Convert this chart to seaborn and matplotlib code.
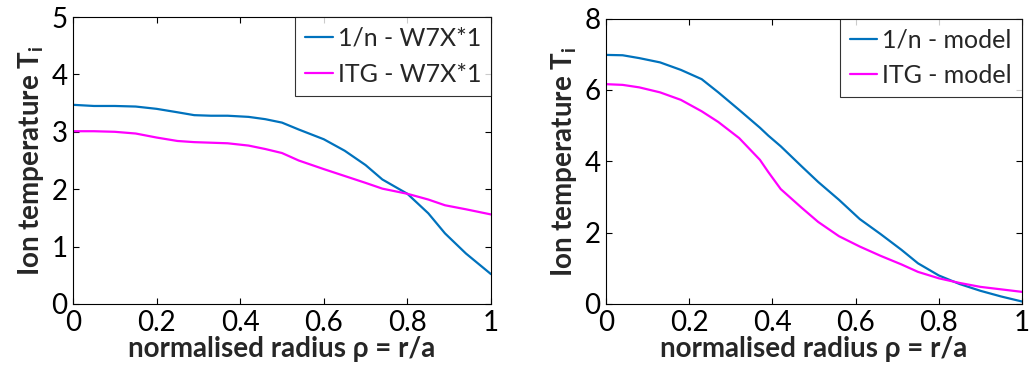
import numpy as np
import pandas as pd
import matplotlib
matplotlib.use("Agg")
import matplotlib.pyplot as plt
import seaborn as sns

# W7-X scaled profiles (left panel)
rho_w7x = [0.0, 0.05, 0.1, 0.15, 0.2, 0.25, 0.29, 0.33, 0.37, 0.42, 0.46,
           0.5, 0.54, 0.6, 0.65, 0.7, 0.74, 0.8, 0.85, 0.89, 0.94, 1.0]
ti_1n_w7x = [3.47, 3.45, 3.45, 3.44, 3.40, 3.34, 3.29, 3.28, 3.28, 3.26, 3.22,
             3.16, 3.04, 2.87, 2.67, 2.42, 2.17, 1.92, 1.58, 1.23, 0.88, 0.52]
ti_itg_w7x = [3.01, 3.01, 3.00, 2.97, 2.90, 2.84, 2.82, 2.81, 2.80, 2.76, 2.70,
              2.63, 2.50, 2.35, 2.23, 2.11, 2.01, 1.92, 1.82, 1.72, 1.65, 1.56]

# Model profiles (right panel)
rho_model = [0.0, 0.04, 0.08, 0.13, 0.18, 0.23, 0.27, 0.32, 0.37, 0.39, 0.42,
             0.47, 0.51, 0.56, 0.61, 0.66, 0.71, 0.75, 0.8, 0.85, 0.9, 0.95, 1.0]
ti_1n_model = [6.98, 6.97, 6.89, 6.77, 6.56, 6.30, 5.93, 5.44, 4.94, 4.72, 4.42,
               3.86, 3.42, 2.92, 2.38, 1.96, 1.52, 1.14, 0.80, 0.56, 0.37, 0.21, 0.07]
ti_itg_model = [6.16, 6.14, 6.07, 5.93, 5.72, 5.40, 5.10, 4.65, 4.04, 3.70, 3.22,
                2.70, 2.30, 1.90, 1.61, 1.35, 1.11, 0.90, 0.72, 0.59, 0.48, 0.41, 0.34]

labels_left = ["1/n - W7X*1", "ITG - W7X*1"]
labels_right = ["1/n - model", "ITG - model"]
y_max = [5, 8]
y_ticks = [[0, 1, 2, 3, 4, 5], [0, 2, 4, 6, 8]]
x_ticks = [0, 0.2, 0.4, 0.6, 0.8, 1]
x_ticklabels = ["0", "0.2", "0.4", "0.6", "0.8", "1"]

sns.set_theme(style="white")
plt.rcParams["font.family"] = ["Lato", "DejaVu Sans"]
plt.rcParams["mathtext.fontset"] = "custom"
plt.rcParams["mathtext.rm"] = "Lato"
plt.rcParams["mathtext.bf"] = "Lato:bold"

colors = ["#0072BD", "#FF00FF"]

fig = plt.figure(figsize=(10.31, 3.65), dpi=100)
ax_l = fig.add_axes([73 / 1031, 1 - 304 / 365, 418 / 1031, 287 / 365])
ax_r = fig.add_axes([606 / 1031, 1 - 304 / 365, 416 / 1031, 285.5 / 365])


def frame(rho, series, labels):
    parts = []
    for vals, lab in zip(series, labels):
        parts.append(pd.DataFrame({"rho": rho, "Ti": vals, "case": lab}))
    return pd.concat(parts, ignore_index=True)


panels = [
    (ax_l, rho_w7x, [ti_1n_w7x, ti_itg_w7x], labels_left),
    (ax_r, rho_model, [ti_1n_model, ti_itg_model], labels_right),
]

for i, (ax, rho, series, labels) in enumerate(panels):
    df = frame(rho, series, labels)
    sns.lineplot(data=df, x="rho", y="Ti", hue="case", palette=colors,
                 linewidth=1.6, ax=ax)
    ax.set_xlim(0, 1)
    ax.set_ylim(0, y_max[i])
    ax.set_xticks(x_ticks)
    ax.set_xticklabels(x_ticklabels)
    ax.set_yticks(y_ticks[i])
    ax.tick_params(direction="in", length=4, width=0.8, labelsize=20,
                   colors="black", top=True, right=True, bottom=True, left=True,
                   pad=4)
    for sp in ax.spines.values():
        sp.set_color("black")
        sp.set_linewidth(0.8)
    ax.set_xlabel("normalised radius \u03c1 = r/a", fontsize=20,
                  fontweight="bold", labelpad=0)
    ax.set_ylabel(r"Ion temperature T$_\mathbf{i}$", fontsize=20,
                  fontweight="bold", labelpad=4)
    leg = ax.legend(loc="upper right", fontsize=18, frameon=True,
                    fancybox=False, edgecolor="black", borderaxespad=0,
                    handlelength=1.1, handletextpad=0.2, borderpad=0.4,
                    labelspacing=0.5)
    leg.get_frame().set_linewidth(0.8)
    leg.set_title(None)

fig.savefig("out.png", dpi=100, facecolor="white")
